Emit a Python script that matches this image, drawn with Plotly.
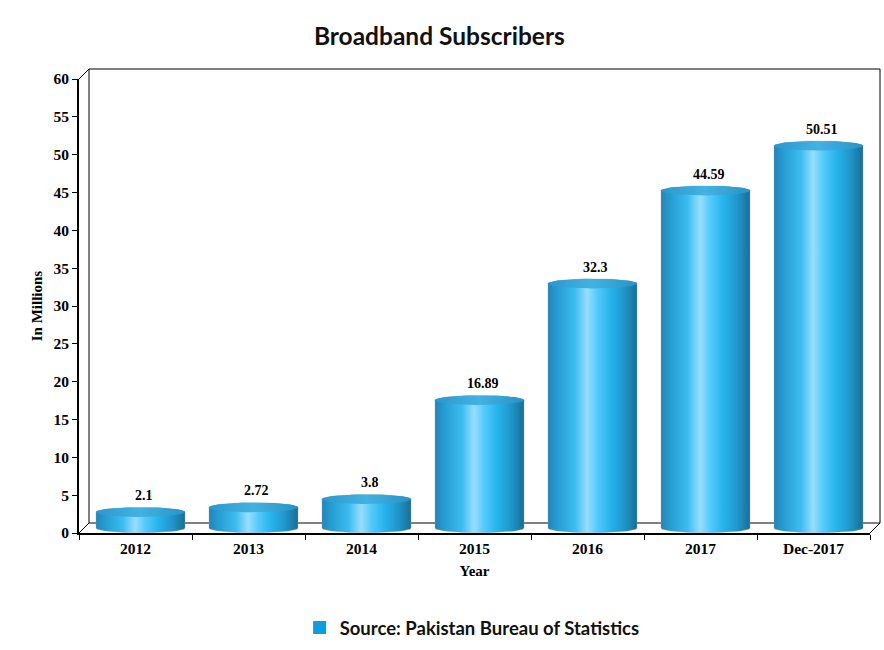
import numpy as np
import plotly.graph_objects as go

# ---------------- data ----------------
categories = ["2012", "2013", "2014", "2015", "2016", "2017", "Dec-2017"]
values = [2.1, 2.72, 3.8, 16.89, 32.3, 44.59, 50.51]
value_labels = ["2.1", "2.72", "3.8", "16.89", "32.3", "44.59", "50.51"]
y_tick_values = list(range(0, 61, 5))
legend_name = "Source: Pakistan Bureau of Statistics"

# ---------------- geometry / style ----------------
W, H = 884, 650
ML, MR, MT, MB = 79, 14, 79, 117
PW, PH = W - ML - MR, H - MT - MB
X_RANGE = [-0.5, len(categories) - 0.5]
Y_RANGE = [0, 60]
PX_X = PW / (X_RANGE[1] - X_RANGE[0])
PX_Y = PH / (Y_RANGE[1] - Y_RANGE[0])
DEPTH = 10  # px, 3D wall offset

SERIF = "Liberation Serif"
SANS = "Lato"

body_scale = [
    [0.0, "#2285b9"], [0.12, "#279fd4"], [0.3, "#3bbcf0"], [0.44, "#98defe"],
    [0.55, "#55cbfb"], [0.7, "#26b4ee"], [0.86, "#1f95c9"], [1.0, "#1a6d96"],
]
top_scale = [[0.0, "#2b98cc"], [0.5, "#42b2e3"], [1.0, "#2893c4"]]

fig = go.Figure()

hw = 44.5 / PX_X            # half width of cylinder (x units)
ry = 4.8 / PX_Y             # ellipse half height (y units)
dx = (DEPTH / 2) / PX_X
dy = (DEPTH / 2) / PX_Y

for i, v in enumerate(values):
    cx = i + dx
    yb = dy
    yt = v + dy
    t1 = np.linspace(np.pi, 2 * np.pi, 40)
    t2 = np.linspace(0, np.pi, 40)
    xs = np.concatenate([cx + hw * np.cos(t1), cx + hw * np.cos(t2)])
    ys = np.concatenate([yb + ry * np.sin(t1), yt + ry * np.sin(t2)])
    fig.add_trace(go.Scatter(
        x=np.append(xs, xs[0]), y=np.append(ys, ys[0]), mode="lines",
        fill="toself", line=dict(width=0.6, color="rgba(150,160,170,0.6)"),
        fillgradient=dict(type="horizontal", colorscale=body_scale),
        showlegend=False, hoverinfo="skip"))
    t = np.linspace(0, 2 * np.pi, 80)
    fig.add_trace(go.Scatter(
        x=cx + hw * np.cos(t), y=yt + ry * np.sin(t), mode="lines",
        fill="toself", line=dict(width=0),
        fillgradient=dict(type="horizontal", colorscale=top_scale),
        showlegend=False, hoverinfo="skip"))
    fig.add_annotation(x=cx, y=v, xref="x", yref="y", text=value_labels[i],
                       showarrow=False, yanchor="bottom", yshift=12, xshift=3,
                       font=dict(family=SERIF, size=14, color="black", weight="bold"))

# legend entry
fig.add_trace(go.Scatter(x=[None], y=[None], mode="markers", name=legend_name,
                         marker=dict(symbol="square", size=13, color="#0d9ddd")))


def px(xp, yp):
    return (xp - ML) / PW, (H - MB - yp) / PH


x_front_l, x_front_r = ML, ML + PW
y_front_t, y_front_b = MT, H - MB
shapes = []
bl = px(x_front_l + DEPTH, y_front_t - DEPTH)
br = px(x_front_r + DEPTH, y_front_b - DEPTH)
shapes.append(dict(type="rect", xref="paper", yref="paper", x0=bl[0], y0=br[1], x1=br[0], y1=bl[1],
                   line=dict(color="black", width=1), layer="below"))
for (ax, ay) in [(x_front_l, y_front_t), (x_front_l, y_front_b), (x_front_r, y_front_b)]:
    p0 = px(ax, ay)
    p1 = px(ax + DEPTH, ay - DEPTH)
    shapes.append(dict(type="line", xref="paper", yref="paper", x0=p0[0], y0=p0[1], x1=p1[0], y1=p1[1],
                       line=dict(color="black", width=1), layer="below"))

axis_font = dict(family=SERIF, size=15.5, color="black", weight="bold")
title_font = dict(family=SERIF, size=15, color="black", weight="bold")

fig.update_layout(
    width=W, height=H,
    margin=dict(l=ML, r=MR, t=MT, b=MB, autoexpand=False),
    paper_bgcolor="white", plot_bgcolor="rgba(0,0,0,0)",
    title=dict(text="Broadband Subscribers", x=0.497, xref="container", xanchor="center",
               y=1 - 36 / H, yref="container", yanchor="middle",
               font=dict(family=SANS, size=24.5, color="#111111", weight="bold")),
    shapes=shapes,
    showlegend=True,
    legend=dict(orientation="h", x=0.497, xanchor="center", y=(H - MB - 628) / PH, yanchor="middle",
                font=dict(family=SANS, size=18.5, color="#111111", weight="bold"),
                bgcolor="rgba(0,0,0,0)"),
    xaxis=dict(range=X_RANGE, tickvals=list(range(len(categories))), ticktext=categories,
               ticks="",
               minor=dict(tickvals=[i - 0.5 for i in range(len(categories) + 1)], ticks="outside",
                          ticklen=5, tickcolor="black", tickwidth=1, showgrid=False),
               showline=True, linecolor="black", linewidth=2, showgrid=False, zeroline=False,
               tickfont=axis_font,
               title=dict(text="Year", font=title_font, standoff=10), fixedrange=True),
    yaxis=dict(range=Y_RANGE, tickvals=y_tick_values, ticks="outside", ticklen=5, tickcolor="black",
               showline=True, linecolor="black", linewidth=2, showgrid=False, zeroline=False,
               tickfont=axis_font,
               title=dict(text="In Millions", font=title_font, standoff=7), fixedrange=True),
)

fig.write_html("out.html")
